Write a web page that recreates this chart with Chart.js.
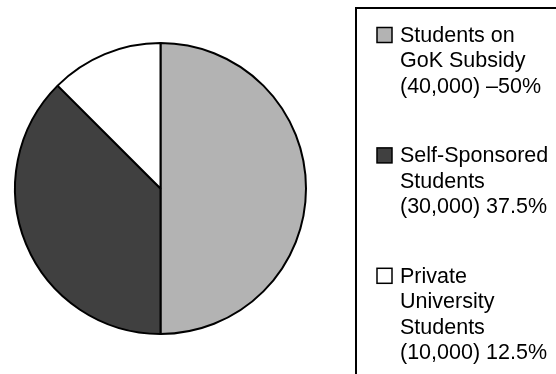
<!DOCTYPE html>
<html>
<head>
<meta charset="utf-8">
<script src="https://cdn.jsdelivr.net/npm/chart.js@4/dist/chart.umd.min.js"></script>
<style>
  html, body { margin: 0; padding: 0; background: #ffffff; }
  #wrap { width: 556px; height: 374px; position: relative; }
</style>
</head>
<body>
<div id="wrap"><canvas id="c" width="556" height="374"></canvas></div>
<script>
// ---- data ----
const categories = ["Students on GoK Subsidy", "Self-Sponsored Students", "Private University Students"];
const legendLines = [
  ["Students on", "GoK Subsidy", "(40,000) \u201350%"],
  ["Self-Sponsored", "Students", "(30,000) 37.5%"],
  ["Private", "University", "Students", "(10,000) 12.5%"]
];
const studentCounts = [40000, 30000, 10000];
const sliceColors = ["#b3b3b3", "#404040", "#ffffff"];

// ---- custom boxed legend ----
const boxedLegend = {
  id: 'boxedLegend',
  afterDraw(chart) {
    const ctx = chart.ctx;
    ctx.save();
    // frame (runs off the right and bottom edges)
    ctx.strokeStyle = '#000';
    ctx.lineWidth = 2;
    ctx.beginPath();
    ctx.moveTo(560, 8);
    ctx.lineTo(356, 8);
    ctx.lineTo(356, 380);
    ctx.stroke();

    ctx.font = '21.5px "Liberation Sans", Arial, sans-serif';
    ctx.textBaseline = 'middle';
    ctx.textAlign = 'left';
    const lineH = 25.5;
    const groupStep = 120.4;
    legendLines.forEach((lines, i) => {
      const y0 = 35 + i * groupStep;
      // swatch
      ctx.fillStyle = sliceColors[i];
      ctx.fillRect(377, y0 - 7.5, 15, 15);
      ctx.lineWidth = 1.5;
      ctx.strokeStyle = '#000';
      ctx.strokeRect(377, y0 - 7.5, 15, 15);
      ctx.fillStyle = '#000';
      lines.forEach((t, j) => {
        ctx.fillText(t, 400, y0 + 1 + j * lineH);
      });
    });
    ctx.restore();
  }
};

new Chart(document.getElementById('c'), {
  type: 'pie',
  data: {
    labels: categories,
    datasets: [{
      data: studentCounts,
      backgroundColor: sliceColors,
      borderColor: '#000000',
      borderWidth: 2,
      hoverOffset: 0
    }]
  },
  options: {
    responsive: false,
    animation: false,
    layout: { padding: { left: 14, right: 249, top: 42, bottom: 39 } },
    plugins: {
      legend: { display: false },
      tooltip: { enabled: false }
    }
  },
  plugins: [boxedLegend]
});
</script>
</body>
</html>
